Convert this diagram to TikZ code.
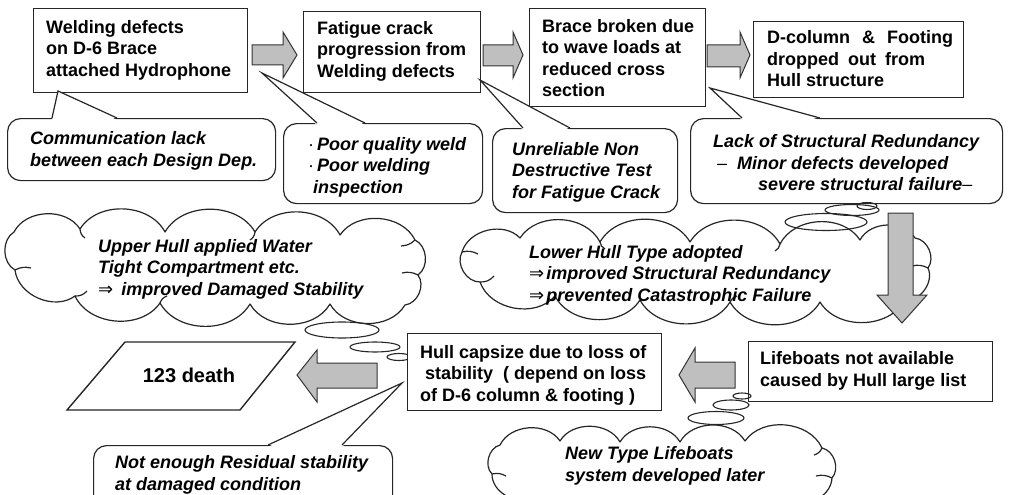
\documentclass[tikz,border=0pt]{standalone}
\usepackage{fontspec}
\setmainfont{Liberation Sans}
\newfontfamily\dv{DejaVu Sans}
\usetikzlibrary{calc}
\newcommand\darr{{\dv\mdseries\upshape ⇒}}
\newcommand\ldash{{\mdseries\upshape –}}
\begin{document}
\begin{tikzpicture}[x=1pt,y=-1pt,
  box/.style={draw=black!85, line width=1.4pt, fill=white, inner sep=0pt},
  txt/.style={inner sep=0pt, align=left, font=\bfseries\fontsize{18}{21.5}\selectfont},
  ctxt/.style={inner sep=0pt, align=left, font=\bfseries\itshape\fontsize{18}{21.5}\selectfont},
  callout/.style={draw=black!85, line width=1.2pt, fill=white, rounded corners=13pt, inner sep=0pt},
  blockarrow/.style={draw=black!80, line width=1pt, fill=black!25, line join=miter},
  bubble/.style={draw=black!85, line width=1.1pt},
  cloudline/.style={draw=black!85, line width=1.2pt, fill=white, line join=round, every to/.style={bend left=60}},
  hook/.style={draw=black!85, line width=1.2pt},
  wedgeline/.style={draw=black!85, line width=1.2pt, line join=miter},
]
\useasboundingbox (0,0) rectangle (1010,495);

% ---------- top row boxes ----------
\node[box, minimum width=214pt, minimum height=84pt, anchor=north west] (b1) at (33,8) {};
\node[txt, anchor=west] (t1) at (46,50) {Welding defects\\on D-6 Brace\\attached Hydrophone};
\node[box, minimum width=177pt, minimum height=81pt, anchor=north west] (b2) at (303,11) {};
\node[txt, anchor=west] (t2) at (317,51) {Fatigue crack\\progression from\\Welding defects};
\node[box, minimum width=176pt, minimum height=98pt, anchor=north west] (b3) at (529,8) {};
\node[txt, anchor=west] (t3) at (542,58) {Brace broken due\\to wave loads at\\reduced cross\\section};
\node[box, minimum width=210pt, minimum height=76pt, anchor=north west] (b4) at (753,21) {};
\node[txt, anchor=west] (t4) at (767,59) {D-column\hspace{12pt}\&\hspace{12pt}Footing\\dropped\hspace{9pt}out\hspace{9pt}from\\Hull structure};

% ---------- top block arrows ----------
\draw[blockarrow] (252,45) -- (283,45) -- (283,32) -- (297,55) -- (283,78) -- (283,65) -- (252,65) -- cycle;
\draw[blockarrow] (483,45) -- (513,45) -- (513,32) -- (523,55) -- (513,78) -- (513,66) -- (483,66) -- cycle;
\draw[blockarrow] (707,45) -- (740,45) -- (740,32) -- (750,55) -- (740,78) -- (740,67) -- (707,67) -- cycle;

% ---------- callouts, top row ----------
\coordinate (p1) at (58,91);
\node[callout, minimum width=268pt, minimum height=62pt, anchor=north west] (c1) at (7,118) {};
\fill[white] (52,120) -- (p1) -- (117,120) -- cycle;
\draw[wedgeline] (52,118) -- (p1) -- (117,118);
\node[ctxt, anchor=west] (ct1) at (30,151) {Communication lack\\between each Design Dep.};

\coordinate (p2) at (262,73);
\node[callout, minimum width=199pt, minimum height=80pt, anchor=north west] (c2) at (283,123) {};
\fill[white] (317,125) -- (p2) -- (365,125) -- cycle;
\draw[wedgeline] (317,123) -- (p2) -- (365,123);
\node[ctxt, anchor=west] (ct2) at (308,167) {\makebox[9pt][l]{\mdseries\upshape ·}Poor quality weld\\\makebox[9pt][l]{\mdseries\upshape ·}Poor welding\\\hspace*{5pt}inspection};

\coordinate (p3) at (480,80);
\node[callout, minimum width=185pt, minimum height=84pt, anchor=north west] (c3) at (492,128) {};
\fill[white] (523,130) -- (p3) -- (570,130) -- cycle;
\draw[wedgeline] (523,128) -- (p3) -- (570,128);
\node[ctxt, anchor=west] (ct3) at (512,172) {Unreliable Non\\Destructive Test\\for Fatigue Crack};

\coordinate (p4) at (710,88);
\node[callout, minimum width=312pt, minimum height=85pt, anchor=north west] (c4) at (690,118) {};
\fill[white] (742,120) -- (p4) -- (820,120) -- cycle;
\draw[wedgeline] (742,118) -- (p4) -- (820,118);
\node[ctxt, anchor=west] (ct4) at (713,163) {Lack of Structural Redundancy\\\hspace*{4pt}\ldash\hspace{10pt}Minor defects developed\\\hspace*{45pt}severe structural failure\ldash};

% ---------- clouds ----------
% upper hull cloud
\coordinate (k1) at (216,269);
\draw[cloudline] (415,240) to (418,275) to (405,305) to (330,304) to (250,304) to (160,303)
  to (75,296) to (15,270) to (14,232) to (80,229) to (165,232) to (255,232) to (340,235) to (415,240) -- cycle;
\draw[hook] (80,229) to[bend right=25] ++(5,9);
\draw[hook] (255,232) to[bend left=25] ++(-5,8);
\draw[hook] (160,303) to[bend left=25] ++(7,-7);
\draw[hook] (75,296) to[bend right=25] ++(12,-5);
\draw[hook] (15,270) to[bend left=20] ++(16,-2);
\draw[hook] (418,275) to[bend right=20] ++(-16,-2);
\draw[hook] (415,240) to[bend left=20] ++(-14,6);
\node[ctxt, anchor=west] (kt1) at (98,269) {Upper Hull applied Water\\Tight Compartment etc.\\\darr\hspace{8pt}improved Damaged Stability};

% lower hull cloud
\coordinate (k2) at (696,272);
\draw[cloudline] (915,238) to (928,268) to (905,300) to (820,302) to (730,302) to (640,300) to (555,296)
  to (480,282) to (462,252) to (520,238) to (600,242) to (690,242) to (780,244) to (860,240) to (915,238) -- cycle;
\draw[hook] (600,242) to[bend right=25] ++(5,7);
\draw[hook] (780,244) to[bend left=25] ++(-5,7);
\draw[hook] (730,302) to[bend left=25] ++(7,-6);
\draw[hook] (480,282) to[bend right=25] ++(14,-6);
\draw[hook] (462,252) to[bend left=20] ++(16,2);
\draw[hook] (928,268) to[bend right=20] ++(-16,-2);
\draw[hook] (905,300) to[bend left=20] ++(-14,-8);
\node[ctxt, anchor=west] (kt2) at (529,275) {Lower Hull Type adopted\\\darr\hspace{2pt}improved Structural Redundancy\\\darr\hspace{2pt}prevented Catastrophic Failure};

% new type lifeboats cloud
\coordinate (k3) at (662,470);
\draw[cloudline] (822,448) to (832,478) to (790,500) to (700,505) to (610,505) to (530,497)
  to (492,474) to (500,445) to (560,441) to (620,442) to (680,442) to (745,441) to (822,448) -- cycle;
\draw[hook] (822,448) to[bend left=25] ++(-8,7);
\draw[hook] (492,474) to[bend left=20] ++(14,2);
\draw[hook] (832,478) to[bend right=20] ++(-16,-2);
\node[ctxt, anchor=west] (kt3) at (565,466) {New Type Lifeboats\\system developed later};

% thought bubbles
\draw[bubble] (826,222) ellipse [x radius=41, y radius=8.5];
\draw[bubble] (852,210) ellipse [x radius=27, y radius=5.5];
\draw[bubble] (867,206) ellipse [x radius=10, y radius=3.5];
\draw[bubble] (342,330) ellipse [x radius=37, y radius=8];
\draw[bubble] (375,347) ellipse [x radius=25, y radius=5];
\draw[bubble] (399,357) ellipse [x radius=12, y radius=3.5];

% ---------- down arrow ----------
\draw[blockarrow] (888,213) -- (913,213) -- (913,295) -- (927,295) -- (902,323) -- (877,295) -- (888,295) -- cycle;

% ---------- bottom row ----------
\node[box, minimum width=244pt, minimum height=60pt, anchor=north west] (b6) at (748,341) {};
\node[txt, anchor=west] (t6) at (760,371) {Lifeboats not available\\caused by Hull large list};

\node[box, minimum width=254pt, minimum height=77pt, anchor=north west] (b5) at (407,333) {};
\node[txt, anchor=west] (t5) at (420,375) {Hull capsize due to loss of\\\hspace*{5pt}stability\hspace{10pt}( depend on loss\\of D-6 column \& footing )};

\draw[bubble] (716,418) ellipse [x radius=28, y radius=6.5];
\draw[bubble] (731,405) ellipse [x radius=18, y radius=5];
\draw[bubble] (742,396) ellipse [x radius=9, y radius=3];

\draw[blockarrow] (735,362) -- (695,362) -- (695,348) -- (679,375) -- (695,402) -- (695,388) -- (735,388) -- cycle;
\draw[blockarrow] (377,363) -- (317,363) -- (317,350) -- (297,375) -- (317,402) -- (317,388) -- (377,388) -- cycle;

\coordinate (d1) at (125,342);
\coordinate (d2) at (295,342);
\coordinate (d3) at (240,410);
\coordinate (d4) at (67,410);
\draw[box] (d1) -- (d2) -- (d3) -- (d4) -- cycle;
\node[inner sep=0pt, font=\bfseries\fontsize{20}{24}\selectfont] (death) at (189,375) {123 death};

\coordinate (p5) at (402,383);
\node[callout, minimum width=299pt, minimum height=80pt, anchor=north west] (c5) at (93,445) {};
\fill[white] (268,447) -- (p5) -- (342,447) -- cycle;
\draw[wedgeline] (268,445) -- (p5) -- (342,445);
\node[ctxt, anchor=west] (ct5) at (115,475) {Not enough Residual stability\\at damaged condition};
\end{tikzpicture}
\end{document}
